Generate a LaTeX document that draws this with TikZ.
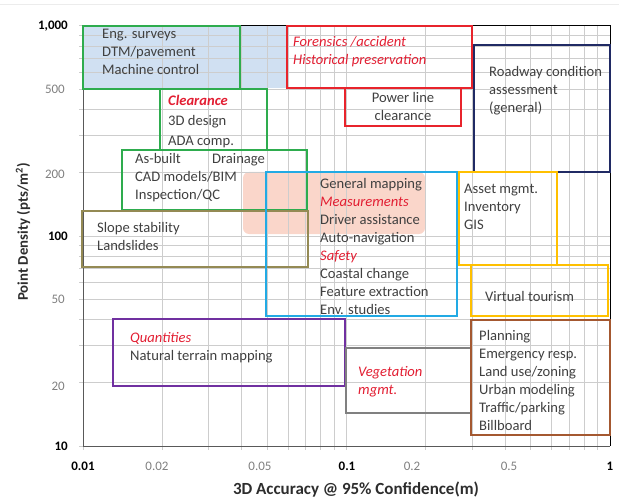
\documentclass[tikz,border=0pt]{standalone}
\usepackage{fontspec}
\setmainfont{Carlito}
\usepackage{tikz}
\usepackage{xcolor}

\definecolor{boxgreen}{RGB}{46,172,78}
\definecolor{boxred}{RGB}{232,36,44}
\definecolor{boxnavy}{RGB}{32,42,100}
\definecolor{boxcyan}{RGB}{34,170,228}
\definecolor{boxgold}{RGB}{255,192,0}
\definecolor{boxolive}{RGB}{148,138,84}
\definecolor{boxpurple}{RGB}{112,48,160}
\definecolor{boxgray}{RGB}{128,128,128}
\definecolor{boxbrown}{RGB}{164,88,48}
\definecolor{fillblue}{RGB}{208,224,242}
\definecolor{fillpink}{RGB}{250,214,202}
\definecolor{textgray}{RGB}{64,64,64}
\definecolor{hired}{RGB}{226,30,50}
\definecolor{gridgray}{RGB}{205,205,205}

\tikzset{
    chartbox/.style={line width=1.8pt},
    gridline/.style={draw=gridgray, line width=1pt},
    boxtext/.style={align=left, anchor=north west, inner sep=0pt, text=textgray,
        font=\fontsize{14.6}{18}\selectfont},
    ticklbl/.style={inner sep=0pt, text=gray, font=\fontsize{13}{15}\selectfont},
    majorlbl/.style={inner sep=0pt, text=black, font=\fontsize{13}{15}\selectfont\bfseries},
    axistitle/.style={inner sep=0pt, text=textgray!70!black, font=\fontsize{17}{19}\selectfont\bfseries},
}
\newcommand{\hl}[1]{{\color{hired}\itshape #1}}

\begin{document}
\begin{tikzpicture}[x=1pt, y=-1pt]
        \useasboundingbox (0,0) rectangle (619,500);
        \draw[gray!15] (0,4) -- (619,4);

        % shaded areas
        \fill[fillblue] (83,26) rectangle (287,88);
        \fill[fillpink, rounded corners=6pt] (243,172) rectangle (425,234);

        % log grid
        \foreach \dec in {0,1} {
            \foreach \num in {1,...,9} {
                \draw[gridline] ({83+263.5*(\dec+log10(\num))},26) -- ({83+263.5*(\dec+log10(\num))},450);
                \draw[gridline] (79,{446-210*(\dec+log10(\num))}) -- (610,{446-210*(\dec+log10(\num))});
            }
        }
        \draw[gridline] (79,26) -- (83,26);

        % axes
        \draw[gray!70!black, line width=1pt] (83,26) -- (83,446) -- (610,446);
        \draw[black, line width=1pt] (83,26) -- (610,26) -- (610,446);

        % boxes
        \draw[chartbox, boxgreen] (83,26) rectangle (240,89);
        \draw[chartbox, boxgreen] (160,89) rectangle (267,150);
        \draw[chartbox, boxgreen] (122,150) rectangle (307,210);
        \draw[chartbox, boxolive] (82,211) rectangle (308,267);
        \draw[chartbox, boxcyan] (266,172) rectangle (457,316);
        \draw[chartbox, boxred] (287,26) rectangle (472,88);
        \draw[chartbox, boxred] (345,88) rectangle (461,126);
        \draw[chartbox, boxnavy] (474,45) rectangle (610,172);
        \draw[chartbox, boxgold] (459,172) rectangle (557,265);
        \draw[chartbox, boxgold] (471,265) rectangle (608,316);
        \draw[chartbox, boxpurple] (113,319) rectangle (345,386);
        \draw[chartbox, boxgray] (346,348) rectangle (471,413);
        \draw[chartbox, boxbrown] (471,320) rectangle (610,435);

        % box texts
        \node[boxtext] (eng) at (102,29) {Eng. surveys\\DTM/pavement\\Machine control};
        \node[boxtext, font=\fontsize{14.6}{20}\selectfont] (clear) at (168,95)
            {{\color{hired}\bfseries\itshape Clearance}\\3D design\\ADA comp.};
        \node[boxtext] (asbuilt) at (135,153)
            {\makebox[77pt][l]{As-built}Drainage\\CAD models/BIM\\Inspection/QC};
        \node[boxtext] (slope) at (97,222) {Slope stability\\Landslides};
        \node[boxtext] (foren) at (293,36) {\hl{Forensics /accident}\\\hl{Historical preservation}};
        \node[boxtext, align=center, anchor=north] (power) at (403,92) {Power line\\clearance};
        \node[boxtext] (road) at (489,66) {Roadway condition\\assessment\\(general)};
        \node[boxtext] (genmap) at (320,178) {General mapping\\\hl{Measurements}\\Driver assistance\\
            Auto-navigation\\\hl{Safety}\\Coastal change\\Feature extraction\\Env. studies};
        \node[boxtext] (asset) at (464,184) {Asset mgmt.\\Inventory\\GIS};
        \node[boxtext] (virt) at (485,291) {Virtual tourism};
        \node[boxtext] (quant) at (130,332) {\hl{Quantities}\\Natural terrain mapping};
        \node[boxtext] (veg) at (358,366) {\hl{Vegetation}\\\hl{mgmt.}};
        \node[boxtext] (plan) at (479,330) {Planning\\Emergency resp.\\Land use/zoning\\
            Urban modeling\\Traffic/parking\\Billboard};

        % tick labels
        \node[majorlbl, anchor=east] (y1000) at (68,26) {1,000};
        \node[ticklbl, anchor=east] (y500) at (65,89) {500};
        \node[ticklbl, anchor=east] (y200) at (65,174) {200};
        \node[majorlbl, anchor=east] (y100) at (68,236) {100};
        \node[ticklbl, anchor=east] (y50) at (65,299) {50};
        \node[ticklbl, anchor=east] (y20) at (65,386) {20};
        \node[majorlbl, anchor=east] (y10) at (68,446) {10};
        \node[majorlbl] (x001) at (83,466) {0.01};
        \node[ticklbl] (x002) at (157,466) {0.02};
        \node[ticklbl] (x005) at (260,466) {0.05};
        \node[majorlbl] (x01) at (347,466) {0.1};
        \node[ticklbl] (x02) at (412,466) {0.2};
        \node[ticklbl] (x05) at (509,466) {0.5};
        \node[majorlbl] (x1) at (610,466) {1};

        % axis titles
        \node[axistitle] (xtitle) at (356,490) {3D Accuracy @ 95\% Confidence(m)};
        \node[axistitle, font=\fontsize{14.8}{17}\selectfont\bfseries, rotate=90] (ytitle) at (23,232)
            {Point Density (pts/m\textsuperscript{2})};
\end{tikzpicture}
\end{document}
